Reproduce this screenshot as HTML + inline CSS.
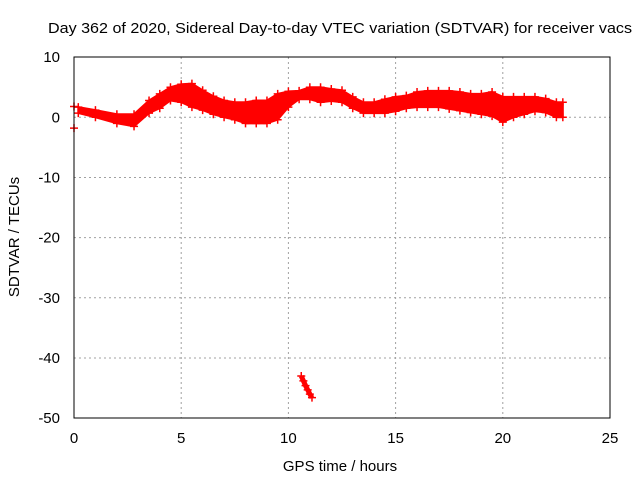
<!DOCTYPE html>
<html><head><meta charset="utf-8"><style>
body{margin:0;background:#fff}
svg{display:block;font-family:"Liberation Sans",Arial,sans-serif;font-size:15px}
</style></head><body>
<svg id="chart" width="640" height="480">
<text x="48" y="33" textLength="584" lengthAdjust="spacingAndGlyphs">Day 362 of 2020, Sidereal Day-to-day VTEC variation (SDTVAR) for receiver vacs</text>
<text transform="translate(19,237) rotate(-90)" text-anchor="middle">SDTVAR / TECUs</text>
<text x="340" y="471" text-anchor="middle">GPS time / hours</text>
<g id="grid"></g>
<g id="ticks"></g>
<g id="marks"></g>
<rect x="74" y="57" width="536" height="361" fill="none" stroke="#000"/>
</svg>
<script>
const xTicks=[0,5,10,15,20,25];
const yTicks=[10,0,-10,-20,-30,-40,-50];
const hours=[0.2,1,2,2.8,3.5,4,4.5,5,5.5,6,6.5,7,7.5,8,8.5,9,9.5,10,10.5,11,11.5,12,12.5,13,13.5,14,14.5,15,15.5,16,16.5,17,17.5,18,18.5,19,19.5,20,20.5,21,21.5,22,22.5,22.8];
const lowVals=[0.7,0,-1,-1.5,0.7,1.5,2.8,2.5,1.7,1.2,0.5,0,-0.4,-1,-1,-1,-0.4,1.7,3,3,2.5,2.7,2.5,1.5,0.7,0.7,0.7,1,1.5,1.7,1.7,1.7,1.4,1.1,0.8,0.5,0.2,-0.8,0,0.5,1,0.8,0,0];
const highVals=[1.7,1.2,0.5,0.5,2.8,3.9,5,5.5,5.6,4.5,3.5,2.8,2.5,2.5,2.8,2.8,3.9,4.3,4.4,5,5,4.7,4.5,3.4,2.5,2.5,3,3.4,3.6,4.2,4.4,4.4,4.4,4.2,3.9,3.9,4.2,3.4,3.4,3.4,3.4,3.1,2.5,2.5];
const outlierHours=[0,0,10.6,10.7,10.8,10.9,11,11.1];
const outlierVals=[1.8,-1.8,-43,-43.8,-44.6,-45.3,-46,-46.6];
const X=h=>74+h*536/25, Y=v=>117.3-v*361/60;
const NS='http://www.w3.org/2000/svg';
function mk(t,a,p){const e=document.createElementNS(NS,t);for(const k in a)e.setAttribute(k,a[k]);p.appendChild(e);return e;}
const grid=document.getElementById('grid'),ticks=document.getElementById('ticks'),marks=document.getElementById('marks');
xTicks.forEach(t=>{
 if(t>0&&t<25){const l=mk('line',{x1:X(t),x2:X(t),y1:57,y2:418,stroke:'#a0a0a0','stroke-dasharray':'2,3'},grid);
 
 }
 const tx=mk('text',{x:X(t),y:443,'text-anchor':'middle'},ticks);tx.textContent=t;
 
 
});
yTicks.forEach(t=>{
 if(t<10&&t>-50){const l=mk('line',{x1:74,x2:610,y1:Y(t),y2:Y(t),stroke:'#a0a0a0','stroke-dasharray':'2,3'},grid);
 
 }
 const tx=mk('text',{x:60,y:Y(t)+5,'text-anchor':'end'},ticks);tx.textContent=t;
 
 
});
let d='M'+hours.map((h,i)=>X(h)+','+Y(highVals[i])).join('L');
for(let i=hours.length-1;i>=0;i--)d+='L'+X(hours[i])+','+Y(lowVals[i]);
const band=mk('path',{d:d+'Z',fill:'#ff0000',stroke:'#ff0000','stroke-width':2,'stroke-linejoin':'round'},marks);


function plus(x,y){const p=mk('path',{d:`M${x-4},${y}h8M${x},${y-4}v8`,stroke:'#ff0000','stroke-width':1.5},marks);
 
 }
hours.forEach((h,i)=>{plus(X(h),Y(highVals[i]));plus(X(h),Y(lowVals[i]));});
outlierHours.forEach((h,i)=>plus(X(h),Y(outlierVals[i])));
const seg=mk('path',{d:'M'+outlierHours.slice(2).map((h,i)=>X(h)+','+Y(outlierVals[i+2])).join('L'),stroke:'#ff0000','stroke-width':5,fill:'none'},marks);


</script>
</body></html>
